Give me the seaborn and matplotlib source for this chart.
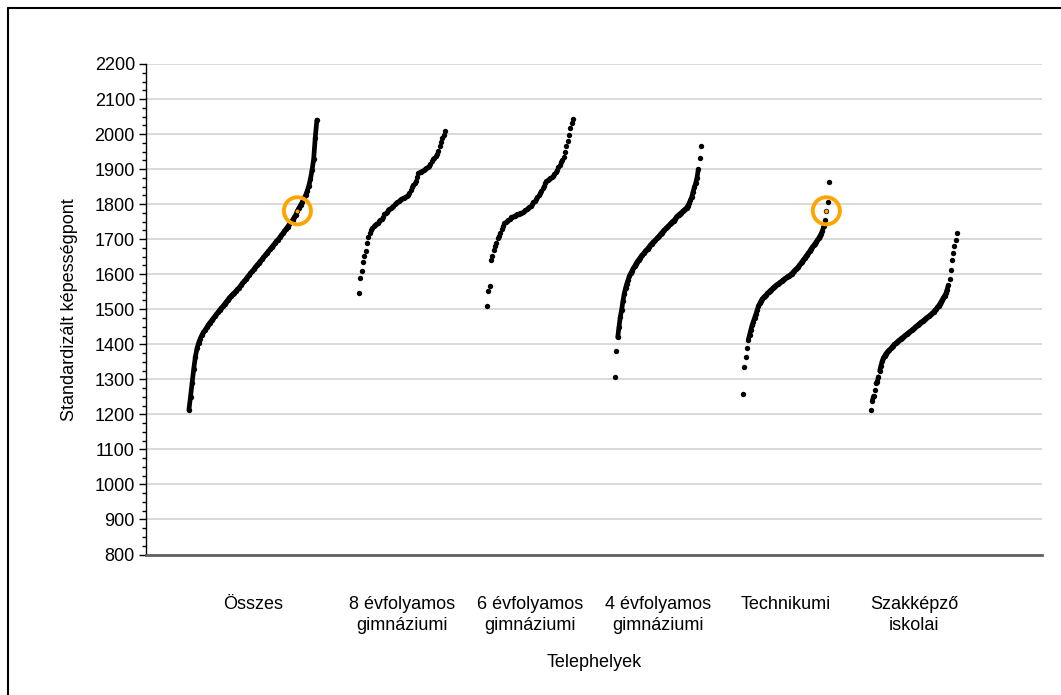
import numpy as np
import pandas as pd
import matplotlib
matplotlib.use('Agg')
import matplotlib.pyplot as plt
from matplotlib.lines import Line2D
from matplotlib.ticker import MultipleLocator
import seaborn as sns

# school types (x axis categories)
categories = ['Összes', '8 évfolyamos\ngimnáziumi', '6 évfolyamos\ngimnáziumi',
              '4 évfolyamos\ngimnáziumi', 'Technikumi', 'Szakképző\niskolai']

# standardised scores of the sites, sorted
osszes = [1212, 1250, 1290, 1330, 1364, 1388, 1404, 1416, 1426, 1434,
          1441, 1448, 1456, 1462, 1468, 1474, 1480, 1486, 1492, 1498,
          1504, 1509, 1515, 1521, 1527, 1533, 1538, 1543, 1547, 1552,
          1557, 1562, 1568, 1574, 1580, 1585, 1591, 1597, 1603, 1608,
          1614, 1620, 1626, 1631, 1637, 1642, 1648, 1654, 1660, 1665,
          1671, 1677, 1682, 1688, 1694, 1699, 1705, 1711, 1717, 1724,
          1730, 1736, 1742, 1748, 1755, 1762, 1770, 1781, 1790, 1798,
          1806, 1816, 1825, 1837, 1852, 1871, 1897, 1928, 1990, 2040]
evf8 = [1545, 1588, 1609, 1635, 1653, 1667, 1688, 1707, 1719, 1726,
        1732, 1737, 1740, 1744, 1747, 1751, 1755, 1759, 1763, 1771,
        1775, 1779, 1782, 1785, 1788, 1792, 1795, 1799, 1803, 1807,
        1810, 1813, 1815, 1817, 1818, 1820, 1822, 1826, 1833, 1840,
        1848, 1854, 1860, 1866, 1878, 1888, 1891, 1893, 1894, 1897,
        1899, 1902, 1905, 1909, 1916, 1924, 1929, 1932, 1936, 1942,
        1952, 1966, 1978, 1989, 1998, 2008]
evf6 = [1509, 1552, 1567, 1640, 1653, 1668, 1681, 1690, 1702, 1710,
        1719, 1729, 1738, 1745, 1749, 1753, 1756, 1759, 1762, 1764,
        1765, 1767, 1769, 1771, 1772, 1774, 1776, 1779, 1781, 1784,
        1787, 1789, 1792, 1795, 1800, 1805, 1810, 1814, 1819, 1825,
        1832, 1838, 1845, 1852, 1859, 1866, 1870, 1872, 1875, 1878,
        1881, 1886, 1891, 1897, 1905, 1912, 1920, 1927, 1935, 1950,
        1965, 1981, 1996, 2016, 2031, 2042]
evf4 = [1306, 1381, 1420, 1450, 1479, 1498, 1523, 1544, 1560, 1573,
        1584, 1595, 1603, 1610, 1617, 1623, 1630, 1636, 1641, 1646,
        1651, 1656, 1660, 1665, 1669, 1673, 1678, 1682, 1687, 1691,
        1694, 1698, 1702, 1706, 1710, 1715, 1719, 1723, 1727, 1731,
        1734, 1738, 1742, 1746, 1750, 1753, 1757, 1762, 1766, 1770,
        1773, 1776, 1780, 1783, 1786, 1790, 1796, 1802, 1811, 1821,
        1835, 1848, 1860, 1875, 1899, 1933, 1966]
technikumi = [1258, 1336, 1365, 1390, 1412, 1426, 1441, 1454, 1465, 1476,
              1486, 1498, 1509, 1517, 1524, 1530, 1534, 1538, 1541, 1545,
              1549, 1553, 1556, 1560, 1563, 1566, 1569, 1572, 1574, 1577,
              1580, 1583, 1585, 1588, 1591, 1594, 1596, 1599, 1602, 1606,
              1610, 1614, 1617, 1621, 1626, 1631, 1636, 1641, 1646, 1651,
              1656, 1661, 1666, 1672, 1677, 1682, 1687, 1692, 1697, 1703,
              1709, 1716, 1724, 1737, 1754, 1781, 1807, 1864]
szakkepzo = [1212, 1238, 1252, 1270, 1289, 1292, 1307, 1324, 1339, 1351,
             1361, 1367, 1373, 1377, 1381, 1385, 1388, 1392, 1396, 1400,
             1403, 1406, 1409, 1412, 1415, 1418, 1420, 1423, 1426, 1429,
             1432, 1434, 1437, 1440, 1443, 1446, 1449, 1452, 1455, 1458,
             1461, 1464, 1466, 1469, 1472, 1475, 1477, 1480, 1483, 1486,
             1489, 1493, 1497, 1500, 1505, 1510, 1515, 1521, 1527, 1533,
             1539, 1545, 1556, 1568, 1585, 1612, 1640, 1660, 1680, 1697, 1717]

highlight_score = 1781          # the highlighted site
highlight_groups = [0, 4]       # shown in Összes and Technikumi

groups = [osszes, evf8, evf6, evf4, technikumi, szakkepzo]

# layout of the groups along the x axis
centers = [0.835, 2.0, 3.0, 4.0, 5.0, 6.0]
spans = [1.0, 0.67, 0.67, 0.67, 0.67, 0.67]
gap_limit = [np.inf, -1, -1, 30, 15, 15]   # -1: dots only, no joining line

rows = []
for g, vals in enumerate(groups):
    vals = np.sort(np.array(vals, dtype=float))
    n = len(vals)
    xs = centers[g] - spans[g] / 2 + spans[g] * np.arange(n) / (n - 1)
    seg = np.concatenate([[0], np.cumsum(np.diff(vals) > gap_limit[g])])
    for x, v, s in zip(xs, vals, seg):
        rows.append((g, x, v, '%d-%d' % (g, s), gap_limit[g] > 0))
df = pd.DataFrame(rows, columns=['group', 'x', 'score', 'seg', 'joined'])

sns.set_theme(style='white')
plt.rcParams['font.family'] = ['Liberation Sans', 'DejaVu Sans']
plt.rcParams['text.color'] = 'black'
plt.rcParams['axes.labelcolor'] = 'black'
plt.rcParams['xtick.color'] = 'black'
plt.rcParams['ytick.color'] = 'black'

fig = plt.figure(figsize=(10.61, 6.95), dpi=100)
ax = fig.add_axes([146 / 1061, 1 - 554.5 / 695, 896 / 1061, 490.5 / 695])

sns.lineplot(data=df[df['joined']], x='x', y='score', units='seg', estimator=None,
             sort=False, color='black', lw=3.4, ax=ax, legend=False,
             solid_capstyle='round')
sns.scatterplot(data=df, x='x', y='score', color='black', s=15, linewidth=0,
                ax=ax, legend=False, zorder=3)

hl = df[df['group'].isin(highlight_groups) & (df['score'] == highlight_score)]
sns.scatterplot(data=hl, x='x', y='score', color='#FFA500', s=8, linewidth=0,
                ax=ax, legend=False, zorder=5)
ax.scatter(hl['x'], hl['score'], s=380, facecolors='none', edgecolors='#FFA500',
           linewidths=2.8, zorder=6)

ax.set_xlim(0, 7)
ax.set_ylim(800, 2200)
ax.yaxis.set_major_locator(MultipleLocator(100))
ax.yaxis.set_minor_locator(MultipleLocator(25))
ax.grid(axis='y', which='major', color='#d9d9d9', lw=1.4)
ax.set_axisbelow(True)
ax.set_xticks(centers)
ax.set_xticklabels(categories, fontsize=13, linespacing=1.3)
ax.tick_params(axis='x', length=0, pad=30, labelcolor='black')
ax.tick_params(axis='y', which='major', left=True, length=5, width=1, color='black',
               labelsize=13, pad=3, labelcolor='black')
ax.tick_params(axis='y', which='minor', left=True, length=3, width=1, color='black')
for side in ['top', 'right']:
    ax.spines[side].set_visible(False)
ax.spines['left'].set_color('black')
ax.spines['left'].set_linewidth(1)
ax.spines['bottom'].set_color('#606060')
ax.spines['bottom'].set_linewidth(2)

ax.set_xlabel('Telephelyek', fontsize=13, labelpad=14, color='black')
ax.set_ylabel('Standardizált képességpont', fontsize=13, labelpad=12, color='black')

# outer frame (only top and left edges are inside the picture)
fig.add_artist(Line2D([8 / 1061, 1], [1 - 8 / 695] * 2, color='black', lw=1.5,
                      transform=fig.transFigure))
fig.add_artist(Line2D([8 / 1061] * 2, [0, 1 - 8 / 695], color='black', lw=1.5,
                      transform=fig.transFigure))

fig.savefig('out.png', dpi=100)
